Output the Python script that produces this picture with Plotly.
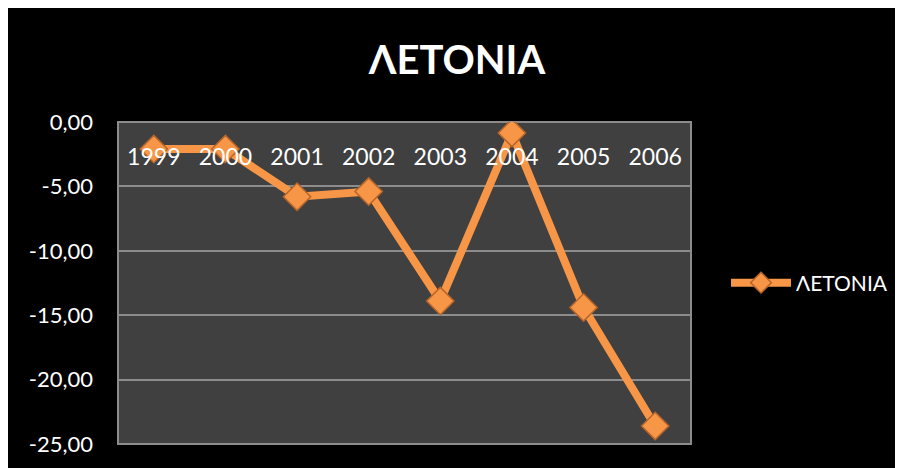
import plotly.graph_objects as go

years = ["1999", "2000", "2001", "2002", "2003", "2004", "2005", "2006"]
values = [-2.1, -2.1, -5.8, -5.4, -13.9, -0.85, -14.4, -23.6]
series_name = "ΛΕΤΟΝΙΑ"
title_text = "ΛΕΤΟΝΙΑ"
y_ticks = [0, -5, -10, -15, -20, -25]
y_tick_labels = ["0,00", "-5,00", "-10,00", "-15,00", "-20,00", "-25,00"]

OFF = 8  # page body margin
W, H = 903 + OFF, 468 + OFF
L, T = 118 - OFF, 122 - OFF
R = W - (691 - OFF)
B = H - (444 - OFF)
pw, ph = W - L - R, H - T - B

FONT = "Lato, sans-serif"

fig = go.Figure()
fig.add_trace(go.Scatter(
    x=years, y=values, name=series_name, mode="lines+markers",
    line=dict(color="#F79646", width=8),
    marker=dict(symbol="diamond", size=21, color="#F79646",
                line=dict(color="#B8652A", width=1.5)),
))

fig.update_layout(
    width=W, height=H,
    margin=dict(l=L, r=R, t=T, b=B),
    paper_bgcolor="black",
    plot_bgcolor="#404040",
    font=dict(family=FONT, color="white"),
    title=dict(text="<b>" + title_text + "</b>", x=(457 - OFF - L) / pw, xref="paper",
               xanchor="center", y=1 - (60 - OFF) / H, yanchor="middle",
               font=dict(size=40, color="white", family=FONT)),
    xaxis=dict(type="category", side="bottom", anchor="free", position=1 - 19 / ph,
               ticks="", showgrid=False, showline=False, zeroline=False,
               tickfont=dict(size=23, color="white"), ticklabelstandoff=0,
               range=[-0.5, 7.5], fixedrange=True),
    yaxis=dict(range=[-25, 0], tickvals=y_ticks, ticktext=y_tick_labels,
               showgrid=True, gridcolor="#8C8C8C", gridwidth=2,
               zeroline=False, showline=False, domain=[0, 1],
               tickfont=dict(size=22, color="white"), ticks="", ticklabelstandoff=24),
    showlegend=True,
    legend=dict(x=(726 - OFF - L) / pw, xanchor="left", y=(H - B - (283 - OFF)) / ph, yanchor="middle",
                font=dict(size=21, color="white"), bgcolor="rgba(0,0,0,0)",
                itemwidth=60),
    shapes=[
        dict(type="rect", xref="paper", yref="paper", layer="below",
             x0=0, x1=1, y0=0, y1=1, fillcolor="#404040", line=dict(color="#8C8C8C", width=2)),
    ],
)

fig.write_html("out.html")
